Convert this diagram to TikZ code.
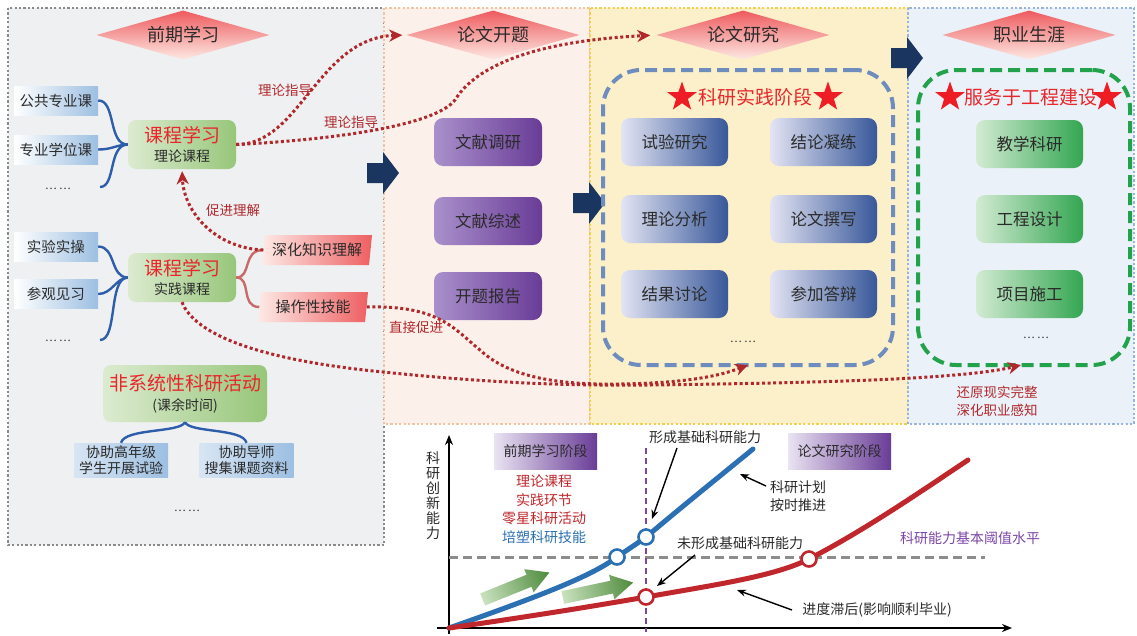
\documentclass[tikz,border=0pt]{standalone}
\usepackage{fontspec}
\setmainfont{Noto Sans CJK SC}
\usetikzlibrary{shapes.geometric,arrows.meta,calc}
\definecolor{hdrtop}{HTML}{EE5A5E}
\definecolor{hdrbot}{HTML}{FDE9E3}
\definecolor{cred}{HTML}{E8262B}
\definecolor{dred}{HTML}{B0282C}
\definecolor{lblue}{HTML}{9DBFE2}
\definecolor{gL}{HTML}{DCEBD0}
\definecolor{gR}{HTML}{97C67A}
\definecolor{pL}{HTML}{A990CB}
\definecolor{pR}{HTML}{693C97}
\definecolor{bL}{HTML}{E3E4F3}
\definecolor{bR}{HTML}{38589A}
\definecolor{ggL}{HTML}{D3EBD3}
\definecolor{ggR}{HTML}{33A651}
\definecolor{navy}{HTML}{1B3561}
\definecolor{pinkL}{HTML}{FDEAE6}
\definecolor{pinkR}{HTML}{EE5F62}
\definecolor{bracered}{HTML}{C86A6A}
\definecolor{braceblue}{HTML}{2E5DAA}
\definecolor{chartblue}{HTML}{2B70B2}
\definecolor{chartred}{HTML}{C0272D}
\definecolor{purp}{HTML}{7B45A8}
\definecolor{txt}{HTML}{2A2A2A}
\definecolor{starred}{HTML}{EE1C24}
\definecolor{p1fill}{HTML}{EFF0F2}
\definecolor{p1line}{HTML}{8A8A8A}
\definecolor{p2fill}{HTML}{FCF1EA}
\definecolor{p2line}{HTML}{F2C3A0}
\definecolor{p3fill}{HTML}{FBF0C9}
\definecolor{p3line}{HTML}{F4CF4A}
\definecolor{p4fill}{HTML}{EAF1F8}
\definecolor{p4line}{HTML}{97B3E0}
\definecolor{rbline}{HTML}{6F8CBF}
\definecolor{gbline}{HTML}{22A24A}
\definecolor{thresh}{HTML}{8C8C8C}
\definecolor{arrL}{HTML}{C9E2BF}
\definecolor{arrR}{HTML}{4E8A3C}
\newcommand\fsz[1]{\fontsize{#1pt}{1.2\dimexpr#1pt\relax}\selectfont}
\begin{document}
\begin{tikzpicture}[x=1pt,y=-1pt,
 panel/.style={line width=2.2pt, dash pattern=on 2.2pt off 2.2pt},
 hdr/.style={diamond, aspect=3.5, minimum width=173pt, minimum height=49pt, inner sep=0pt, top color=hdrtop, bottom color=hdrbot, font=\fsz{18}, text=txt},
 lbox/.style={rectangle, minimum width=84pt, minimum height=29pt, inner sep=0pt, left color=white, right color=lblue, font=\fsz{14.5}, text=txt},
 nbox/.style={rectangle, minimum width=94pt, minimum height=34pt, inner sep=0pt, left color=white!60!lblue, right color=lblue, font=\fontsize{14pt}{16pt}\selectfont, text=txt, align=center},
 gbox/.style={rectangle, rounded corners=8pt, left color=gL, right color=gR, inner sep=0pt, align=center, text=txt, font=\fsz{19}},
 para/.style={trapezium, trapezium left angle=78, trapezium right angle=102, trapezium stretches body, minimum width=110pt, minimum height=30pt, inner sep=0pt, left color=pinkL, right color=pinkR, font=\fsz{15}, text=txt},
 pbox/.style={rectangle, rounded corners=9pt, minimum width=108pt, minimum height=48pt, left color=pL, right color=pR, font=\fsz{16.5}, text=txt},
 bbox/.style={rectangle, rounded corners=9pt, minimum width=107pt, minimum height=48pt, left color=bL, right color=bR, font=\fsz{16.5}, text=txt},
 ebox/.style={rectangle, rounded corners=9pt, minimum width=107pt, minimum height=48pt, left color=ggL, right color=ggR, font=\fsz{16.5}, text=txt},
 dotarrow/.style={draw=dred, line width=3pt, dash pattern=on 3pt off 2.6pt, -{Stealth[length=13pt,width=12pt,inset=4pt]}},
 bluebrace/.style={draw=braceblue, line width=2.4pt},
 redbrace/.style={draw=bracered, line width=2.4pt},
 lab/.style={font=\fsz{13.5}, text=dred, inner sep=0pt},
 star5/.style={star, star points=5, star point ratio=2.5, fill=starred, minimum size=31pt, inner sep=0pt},
 dots/.style={font=\fsz{11}, text=txt, inner sep=0pt},
 stage/.style={rectangle, minimum width=103pt, minimum height=36pt, left color=pL!25, right color=pR, font=\fsz{14}, text=txt, inner sep=0pt},
 ctext/.style={font=\fsz{14}, text=txt, inner sep=0pt},
 ptr/.style={draw=black, line width=1.4pt, -{Stealth[length=9pt,width=7pt]}},
 axis/.style={draw=black, line width=1.5pt, -{Stealth[length=10pt,width=8pt]}},
 ring/.style={circle, fill=white, line width=2.6pt, minimum size=15pt, inner sep=0pt},
 gdash/.style={line width=4pt, dash pattern=on 12pt off 6pt, rounded corners=38pt, minimum height=295pt},
 bigarrow/.pic={\fill[navy] (-16,-10) -- (0,-10) -- (0,-21) -- (16,0) -- (0,21) -- (0,10) -- (-16,10) -- cycle;},
 grarrow/.pic={\shade[left color=arrL, right color=arrR] (-36,-6.5) -- (14,-6.5) -- (14,-12.5) -- (36,0) -- (14,12.5) -- (14,6.5) -- (-36,6.5) -- cycle;}
]
\useasboundingbox (0,0) rectangle (1137,635);
\fill[white] (0,0) rectangle (1137,635);

% panels
\filldraw[panel, fill=p1fill, draw=p1line] (8,8) rectangle (384,545);
\filldraw[panel, fill=p2fill, draw=p2line] (384,8) rectangle (590,424);
\filldraw[panel, fill=p3fill, draw=p3line] (590,8) rectangle (908,424);
\filldraw[panel, fill=p4fill, draw=p4line] (908,8) rectangle (1134,424);

% headers
\node[hdr] (h1) at (183,35) {前期学习};
\node[hdr] (h2) at (493,35) {论文开题};
\node[hdr] (h3) at (743,35) {论文研究};
\node[hdr] (h4) at (1029,35) {职业生涯};

% big navy arrows
\pic at (383,173) {bigarrow};
\pic at (589,203) {bigarrow};
\pic at (907,58) {bigarrow};

% left panel
\node[lbox] (pub) at (56,100.5) {公共专业课};
\node[lbox] (deg) at (56,149.5) {专业学位课};
\node[dots] (d1) at (58,189) {… …};
\node[lbox] (exp) at (56,246.5) {实验实操};
\node[lbox] (vis) at (56,294) {参观见习};
\node[dots] (d2) at (58,341) {… …};
\coordinate (e1) at (100,187);
\coordinate (e2) at (100,340);

\node[gbox, minimum width=108pt, minimum height=49pt] (theo) at (182,144.5)
  {{\color{cred}课程学习}\\[-3pt]{\fsz{14}理论课程}};
\node[gbox, minimum width=108pt, minimum height=49pt] (prac) at (182,277.5)
  {{\color{cred}课程学习}\\[-3pt]{\fsz{14}实践课程}};

\node[para] (deep) at (317,250) {深化知识理解};
\node[para] (skill) at (313,307) {操作性技能};

\node[gbox, minimum width=164pt, minimum height=57pt] (ns) at (185,393.5)
  {{\color{cred}非系统性科研活动}\\[-3pt]{\fsz{14}(课余时间)}};
\node[nbox] (a1) at (121,460) {协助高年级\\学生开展试验};
\node[nbox] (a2) at (246.5,460) {协助导师\\搜集课题资料};
\node[dots] (d3) at (187,511) {… …};

% braces
\draw[bluebrace] (pub.east) .. controls (116,100) and (108,145) .. (theo.west);
\draw[bluebrace] (deg.east) .. controls (112,149.5) and (116,145) .. (theo.west);
\draw[bluebrace] (e1) .. controls (116,187) and (108,145) .. (theo.west);
\draw[bluebrace] (exp.east) .. controls (116,246.5) and (110,277.5) .. (prac.west);
\draw[bluebrace] (vis.east) .. controls (112,294) and (116,278) .. (prac.west);
\draw[bluebrace] (e2) .. controls (118,340) and (108,278) .. (prac.west);
\draw[bluebrace] (ns.south) .. controls (180,433) and (125,428) .. (a1.north);
\draw[bluebrace] (ns.south) .. controls (190,433) and (243,428) .. (a2.north);
\draw[redbrace] (prac.east) .. controls (252,277.5) and (242,250) .. (deep.west);
\draw[redbrace] (prac.east) .. controls (252,277.5) and (240,307) .. (skill.west);

% panel 2
\node[pbox] (lit1) at (488,142) {文献调研};
\node[pbox] (lit2) at (488,221) {文献综述};
\node[pbox] (lit3) at (488,296) {开题报告};

% panel 3
\node[gdash, draw=rbline, minimum width=290pt] (rb) at (748,217.5) {};
\node[star5] (s1) at (682,97) {};
\node[font=\fsz{19}, text=cred, inner sep=0pt] (t1) at (755,97) {科研实践阶段};
\node[star5] (s2) at (828,97) {};
\node[bbox] (r1) at (674.5,142) {试验研究};
\node[bbox] (r2) at (823.5,142) {结论凝练};
\node[bbox] (r3) at (674.5,219) {理论分析};
\node[bbox] (r4) at (823.5,219) {论文撰写};
\node[bbox] (r5) at (674.5,294) {结果讨论};
\node[bbox] (r6) at (823.5,294) {参加答辩};
\node[dots] (d4) at (743,342) {… …};

% panel 4
\node[gdash, draw=gbline, minimum width=212pt] (gb) at (1024,217.5) {};
\node[star5] (s3) at (950,97) {};
\node[font=\fsz{19}, text=cred, inner sep=0pt] (t2) at (1031,97) {服务于工程建设};
\node[star5] (s4) at (1107,97) {};
\node[ebox] (c1) at (1029.5,144) {教学科研};
\node[ebox] (c2) at (1029.5,219) {工程设计};
\node[ebox] (c3) at (1029.5,294) {项目施工};
\node[dots] (d5) at (1036,338) {… …};
\node[lab, align=center, font=\fontsize{13.5pt}{18pt}\selectfont] (l5) at (997,401) {还原现实完整\\深化职业感知};

% dotted red connectors
\draw[dotarrow, shorten >=4pt] (theo.east) .. controls (300,145) and (318,38) .. (h2.west);
\draw[dotarrow, shorten >=6pt] (theo.east) .. controls (330,140) and (435,126) .. (455,100) .. controls (472,72) and (520,42) .. (h3.west);
\node[lab] (l1) at (285,90) {理论指导};
\node[lab] (l2) at (351,122) {理论指导};
\draw[dotarrow, shorten >=2pt] (deep.west) .. controls (215,248) and (184,212) .. (theo.south);
\node[lab] (l3) at (233,210) {促进理解};
\coordinate (rbend) at (748,365);
\coordinate (gbend) at (1021,365);
\draw[dotarrow] (skill.east) .. controls (440,305) and (455,330) .. (480,350) .. controls (510,378) and (560,385) .. (620,384) .. controls (690,383) and (722,375) .. (rbend);
\node[lab] (l4) at (416,327) {直接促进};
\draw[dotarrow] (prac.south) .. controls (195,335) and (260,360) .. (383,372) .. controls (480,382) and (560,386) .. (650,385) .. controls (800,383) and (960,380) .. (gbend);

% chart
\coordinate (O) at (449,628);
\coordinate (ytop) at (449,435);
\coordinate (ybot) at (449,634);
\coordinate (xl) at (437,628);
\coordinate (xr) at (1012,628);
\draw[axis] (ybot) -- (ytop);
\draw[axis] (xl) -- (xr);
\node[font=\fontsize{14pt}{15pt}\selectfont, text=txt, align=center, inner sep=0pt] (yl) at (433,496) {科\\研\\创\\新\\能\\力};
\coordinate (th1) at (449,557);
\coordinate (th2) at (985,557);
\draw[thresh, line width=3pt, dash pattern=on 9pt off 5pt] (th1) -- (th2);
\coordinate (v1) at (646,448);
\coordinate (v2) at (646,632);
\draw[purp, line width=2.5pt, dash pattern=on 6pt off 4pt] (v1) -- (v2);

\pic[transform canvas={shift={(516,586)}, rotate=22}] at (0,0) {grarrow};
\pic[transform canvas={shift={(598,590)}, rotate=12}] at (0,0) {grarrow};

\coordinate (b1) at (617,557);
\coordinate (b2) at (646,537);
\coordinate (b3) at (753,449);
\draw[chartblue, line width=5pt, line cap=round] (O) .. controls (540,596) and (592,576) .. (b1) .. controls (630,548) and (638,543) .. (b2) .. controls (690,500) and (725,472) .. (b3);
\coordinate (r1c) at (646,597);
\coordinate (r2c) at (809,559);
\coordinate (r3c) at (968,460);
\draw[chartred, line width=5pt, line cap=round] (O) .. controls (540,615) and (600,605) .. (r1c) .. controls (720,584) and (775,576) .. (r2c) .. controls (865,530) and (920,492) .. (r3c);
\node[ring, draw=chartblue] (cb1) at (b1) {};
\node[ring, draw=chartblue] (cb2) at (b2) {};
\node[ring, draw=chartred] (cr1) at (r1c) {};
\node[ring, draw=chartred] (cr2) at (r2c) {};

\node[stage] (st1) at (545.5,451) {前期学习阶段};
\node[stage] (st2) at (839.5,451) {论文研究阶段};
\node[ctext, text=chartred] (k1) at (544,481) {理论课程};
\node[ctext, text=chartred] (k2) at (544,500) {实践环节};
\node[ctext, text=chartred] (k3) at (544,518) {零星科研活动};
\node[ctext, text=chartblue] (k4) at (544,537) {培塑科研技能};

\node[ctext] (f1) at (705,437) {形成基础科研能力};
\draw[ptr] (677,448) -- (652,519);
\node[ctext, align=center, font=\fontsize{14pt}{18pt}\selectfont] (f2) at (798,496) {科研计划\\按时推进};
\draw[ptr] (766,486) -- (740,474);
\node[ctext] (f3) at (740,543) {未形成基础科研能力};
\draw[ptr] (695,555) -- (657,586);
\node[ctext] (f4) at (877,610) {进度滞后(影响顺利毕业)};
\draw[ptr] (792,610) -- (737,590);
\node[ctext, text=purp] (f5) at (970,538) {科研能力基本阈值水平};
\end{tikzpicture}
\end{document}
